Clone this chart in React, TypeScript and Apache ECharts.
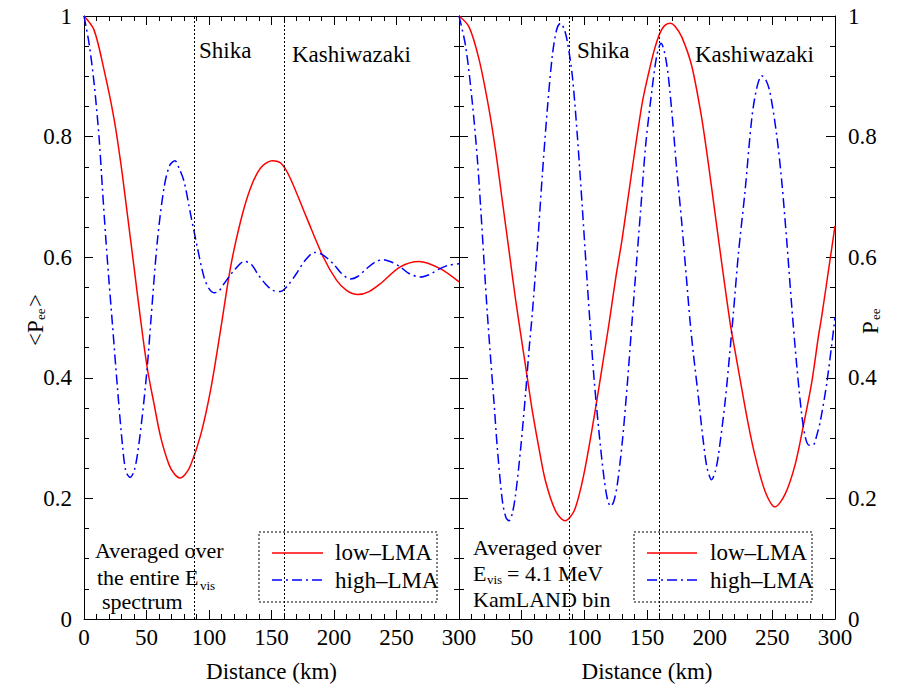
import React, { useEffect, useRef } from "react";
import * as echarts from "echarts";

// ---- data (km, P_ee) ----
const lowLmaAvg: number[][] = [
  [0, 1.0], [8, 0.977], [16, 0.911], [24, 0.83], [29.3, 0.758], [34.7, 0.671], [40, 0.584],
  [45.3, 0.496], [50.7, 0.415], [56, 0.357], [61.3, 0.302], [68, 0.256], [72.5, 0.24],
  [76.8, 0.234], [81, 0.24], [85.3, 0.255], [93.3, 0.305], [101.3, 0.38], [109.3, 0.48],
  [117.3, 0.584], [125.3, 0.66], [133.3, 0.715], [141.3, 0.748], [150.5, 0.76], [158, 0.755],
  [165, 0.731], [178, 0.666], [191.5, 0.6], [202, 0.562], [210, 0.545], [219, 0.538],
  [228, 0.543], [237, 0.556], [253, 0.584], [268, 0.593], [285, 0.581], [300, 0.559],
];

const highLmaAvg: number[][] = [
  [0, 1.0], [4, 0.955], [8, 0.89], [12, 0.8], [14.7, 0.715], [17.3, 0.635], [20, 0.56],
  [22.7, 0.49], [26.7, 0.385], [30.7, 0.29], [33.5, 0.245], [37, 0.235], [40, 0.245],
  [42.7, 0.272], [46.7, 0.338], [50.7, 0.42], [53.5, 0.495], [58.7, 0.627], [64, 0.715],
  [68.5, 0.752], [72.8, 0.76], [76, 0.748], [80, 0.726], [85.3, 0.671], [90.7, 0.616],
  [96, 0.567], [100, 0.548], [104.5, 0.541], [108, 0.544], [112, 0.556], [120, 0.578],
  [128.5, 0.593], [134, 0.588], [138.7, 0.573], [145, 0.556], [151, 0.545], [157, 0.543],
  [163, 0.553], [170, 0.573], [177, 0.595], [184.5, 0.608], [191, 0.604], [199.5, 0.589],
  [206, 0.573], [213, 0.564], [219, 0.568], [226, 0.581], [233, 0.592], [239.5, 0.596],
  [246, 0.592], [253, 0.584], [260, 0.573], [269, 0.567], [276, 0.571], [284.8, 0.581],
  [292, 0.587], [300, 0.589],
];

const lowLmaBin: number[][] = [
  [0, 1.0], [8, 0.982], [16, 0.928], [23.9, 0.846], [29.3, 0.775], [34.6, 0.693], [39.9, 0.611],
  [45.2, 0.529], [50.5, 0.455], [54.5, 0.4], [58.5, 0.345], [63.8, 0.283], [69.1, 0.228],
  [77.1, 0.179], [84.6, 0.163], [91.8, 0.179], [98.4, 0.228], [103.7, 0.285], [109, 0.35],
  [114.4, 0.42], [119.7, 0.49], [125, 0.565], [130.3, 0.632], [138.3, 0.748], [146.3, 0.857],
  [151.6, 0.908], [156, 0.945], [160.4, 0.972], [164, 0.984], [168.4, 0.988], [172, 0.984],
  [177.8, 0.965], [185.7, 0.917], [193.7, 0.83], [199.1, 0.753], [204.4, 0.671], [209.7, 0.589],
  [216.4, 0.49], [220.2, 0.445], [225.6, 0.382], [230.9, 0.322], [236.3, 0.27], [244.2, 0.212],
  [252.2, 0.186], [260.2, 0.207], [268.2, 0.256], [274.8, 0.321], [281.4, 0.392], [286.8, 0.469],
  [289.4, 0.502], [296, 0.595], [300, 0.652],
];

const highLmaBin: number[][] = [
  [0, 1.0], [5.3, 0.95], [10.6, 0.857], [14.6, 0.764], [17.3, 0.682], [19.9, 0.595], [22.6, 0.507],
  [25.3, 0.43], [27.9, 0.36], [30.6, 0.283], [34.6, 0.196], [37.5, 0.168], [39.9, 0.163],
  [42.5, 0.175], [45.2, 0.207], [49.2, 0.283], [53.2, 0.376], [55.9, 0.447], [58.5, 0.507],
  [62.5, 0.616], [66.5, 0.737], [70.5, 0.846], [74.5, 0.935], [78, 0.978], [81, 0.988],
  [84, 0.978], [86.4, 0.958], [90.4, 0.901], [94.4, 0.802], [98.4, 0.682], [102.4, 0.555],
  [105.1, 0.474], [107.7, 0.4], [111.7, 0.31], [115.7, 0.234], [118.5, 0.198], [121, 0.187],
  [123.5, 0.195], [126.3, 0.223], [130.3, 0.294], [134.3, 0.39], [138.3, 0.5], [141.6, 0.59],
  [145, 0.68], [148.9, 0.785], [153.7, 0.873], [157.7, 0.933], [161.2, 0.955], [165.6, 0.922],
  [169.6, 0.846], [173.6, 0.748], [177.6, 0.66], [181.6, 0.562], [184.3, 0.495], [187, 0.44],
  [190.9, 0.37], [194.9, 0.295], [198, 0.25], [201.6, 0.231], [204.5, 0.245], [207, 0.272],
  [212.3, 0.36], [216.3, 0.447], [218.9, 0.507], [222.9, 0.605], [228.2, 0.709], [233.6, 0.83],
  [237.5, 0.88], [241.5, 0.901], [245, 0.893], [248.2, 0.873], [253.5, 0.802], [257.5, 0.726],
  [261.5, 0.627], [265.5, 0.518], [269.5, 0.42], [273.5, 0.338], [276.5, 0.3], [279.5, 0.288],
  [282.9, 0.289], [285.5, 0.305], [288.2, 0.327], [293.5, 0.392], [300, 0.5],
];

const siteNames = ["Shika", "Kashiwazaki"];
const siteKm = [88, 160];
const seriesNames = ["low\u2013LMA", "high\u2013LMA"];
const xRange = [0, 300];
const yRange = [0, 1];

const FONT = "Liberation Serif";
const FS = 22; // annotation text
const AFS = 23; // axis labels / names
const RED = "#ff0000";
const BLUE = "#0000ff";
const DASHDOT = [10, 4, 2, 4];

function xAxis(grid: number, pos: "top" | "bottom", labels: boolean, hideZero: boolean) {
  return {
    type: "value",
    gridIndex: grid,
    position: pos,
    min: xRange[0],
    max: xRange[1],
    interval: 50,
    axisLine: { show: true, onZero: false, lineStyle: { color: "#000", width: 1 } },
    axisTick: { show: true, inside: true, length: 9, lineStyle: { color: "#000" } },
    minorTick: { show: true, splitNumber: 5, length: 5, lineStyle: { color: "#000" } },
    splitLine: { show: false },
    minorSplitLine: { show: false },
    axisLabel: {
      show: labels,
      margin: 7,
      fontFamily: FONT,
      fontSize: AFS,
      color: "#000",
      formatter: (v: number) => (hideZero && v === 0 ? "" : String(v)),
    },
    name: labels ? "Distance (km)" : "",
    nameLocation: "middle",
    nameGap: 41,
    nameTextStyle: { fontFamily: FONT, fontSize: AFS, color: "#000" },
  };
}

function yAxis(grid: number, pos: "left" | "right", labels: boolean, margin: number) {
  return {
    type: "value",
    gridIndex: grid,
    position: pos,
    min: yRange[0],
    max: yRange[1],
    interval: 0.2,
    axisLine: { show: true, onZero: false, lineStyle: { color: "#000", width: 1 } },
    axisTick: { show: true, inside: true, length: 9, lineStyle: { color: "#000" } },
    minorTick: { show: true, splitNumber: 4, length: 5, lineStyle: { color: "#000" } },
    splitLine: { show: false },
    minorSplitLine: { show: false },
    axisLabel: {
      show: labels,
      margin,
      fontFamily: FONT,
      fontSize: AFS,
      color: "#000",
    },
  };
}

const siteLines = {
  silent: true,
  symbol: ["none", "none"],
  label: { show: false },
  lineStyle: { type: [2, 2], color: "#000", width: 1 },
  data: siteKm.map((k) => ({ xAxis: k })),
};

function curve(name: string, data: number[][], xi: number, yi: number, color: string, dash: any, mark: boolean) {
  return {
    type: "line",
    name,
    xAxisIndex: xi,
    yAxisIndex: yi,
    data,
    symbol: "none",
    showSymbol: false,
    smooth: 0.3,
    lineStyle: { color, width: 1.5, type: dash },
    markLine: mark ? siteLines : undefined,
    z: 3,
  };
}

function txt(text: string, x: number, y: number, size = FS, align = "left", rotation = 0) {
  return {
    type: "text",
    x,
    y,
    rotation,
    silent: true,
    style: {
      text,
      fontFamily: FONT,
      fontSize: size,
      fill: "#000",
      align,
      verticalAlign: "middle",
    },
    z: 10,
  };
}

function legendBox(x0: number, lineX1: number, lineX2: number, textX: number) {
  return [
    {
      type: "rect",
      shape: { x: x0, y: 532, width: 178, height: 70 },
      style: { fill: "none", stroke: "#000", lineWidth: 1, lineDash: [2, 2] },
      silent: true,
      z: 9,
    },
    {
      type: "line",
      shape: { x1: lineX1, y1: 553, x2: lineX2, y2: 553 },
      style: { stroke: RED, lineWidth: 1.5 },
      silent: true,
      z: 10,
    },
    {
      type: "line",
      shape: { x1: lineX1, y1: 580, x2: lineX2, y2: 580 },
      style: { stroke: BLUE, lineWidth: 1.5, lineDash: DASHDOT },
      silent: true,
      z: 10,
    },
    txt(seriesNames[0], textX, 552, 23),
    txt(seriesNames[1], textX, 580, 23),
  ];
}

const option: any = {
  animation: false,
  backgroundColor: "#fff",
  grid: [
    { left: 84, top: 16, width: 375, height: 610 },
    { left: 459, top: 16, width: 376, height: 610 },
  ],
  xAxis: [
    xAxis(0, "bottom", true, false),
    xAxis(0, "top", false, false),
    xAxis(1, "bottom", true, true),
    xAxis(1, "top", false, false),
  ],
  yAxis: [
    yAxis(0, "left", true, 12),
    yAxis(0, "right", false, 12),
    yAxis(1, "left", false, 12),
    yAxis(1, "right", true, 13),
  ],
  series: [
    curve(seriesNames[0], lowLmaAvg, 0, 0, RED, "solid", true),
    curve(seriesNames[1], highLmaAvg, 0, 0, BLUE, DASHDOT, false),
    curve(seriesNames[0], lowLmaBin, 2, 3, RED, "solid", true),
    curve(seriesNames[1], highLmaBin, 2, 3, BLUE, DASHDOT, false),
  ],
  graphic: [
    // site labels
    txt(siteNames[0], 199, 50, 23),
    txt(siteNames[1], 292, 54, 23),
    txt(siteNames[0], 577, 50, 23),
    txt(siteNames[1], 695, 54, 23),
    // left annotation
    txt("Averaged over", 95, 550),
    txt("the entire E", 97, 577),
    txt("vis", 200, 585, 13),
    txt("spectrum", 102, 601),
    // right annotation
    txt("Averaged over", 473, 547),
    txt("E", 473, 573),
    txt("vis", 487, 579, 13),
    txt("= 4.1 MeV", 507, 573),
    txt("KamLAND bin", 473, 599),
    // legends
    ...legendBox(259, 272, 323, 335),
    ...legendBox(634, 647, 697, 710),
    // y-axis titles (rotated)
    txt("<P", 35, 346, AFS, "left", Math.PI / 2),
    txt("ee", 40, 320, 13, "left", Math.PI / 2),
    txt(">", 35, 307, AFS, "left", Math.PI / 2),
    txt("P", 870, 334, AFS, "left", Math.PI / 2),
    txt("ee", 875, 320, 13, "left", Math.PI / 2),
  ],
};

export default function App() {
  const ref = useRef<HTMLDivElement>(null);
  useEffect(() => {
    document.body.style.margin = "0";
    const chart = echarts.init(ref.current!, null, { renderer: "svg" });
    chart.setOption(option);
    return () => chart.dispose();
  }, []);
  return <div ref={ref} style={{ width: 901, height: 688 }} />;
}
